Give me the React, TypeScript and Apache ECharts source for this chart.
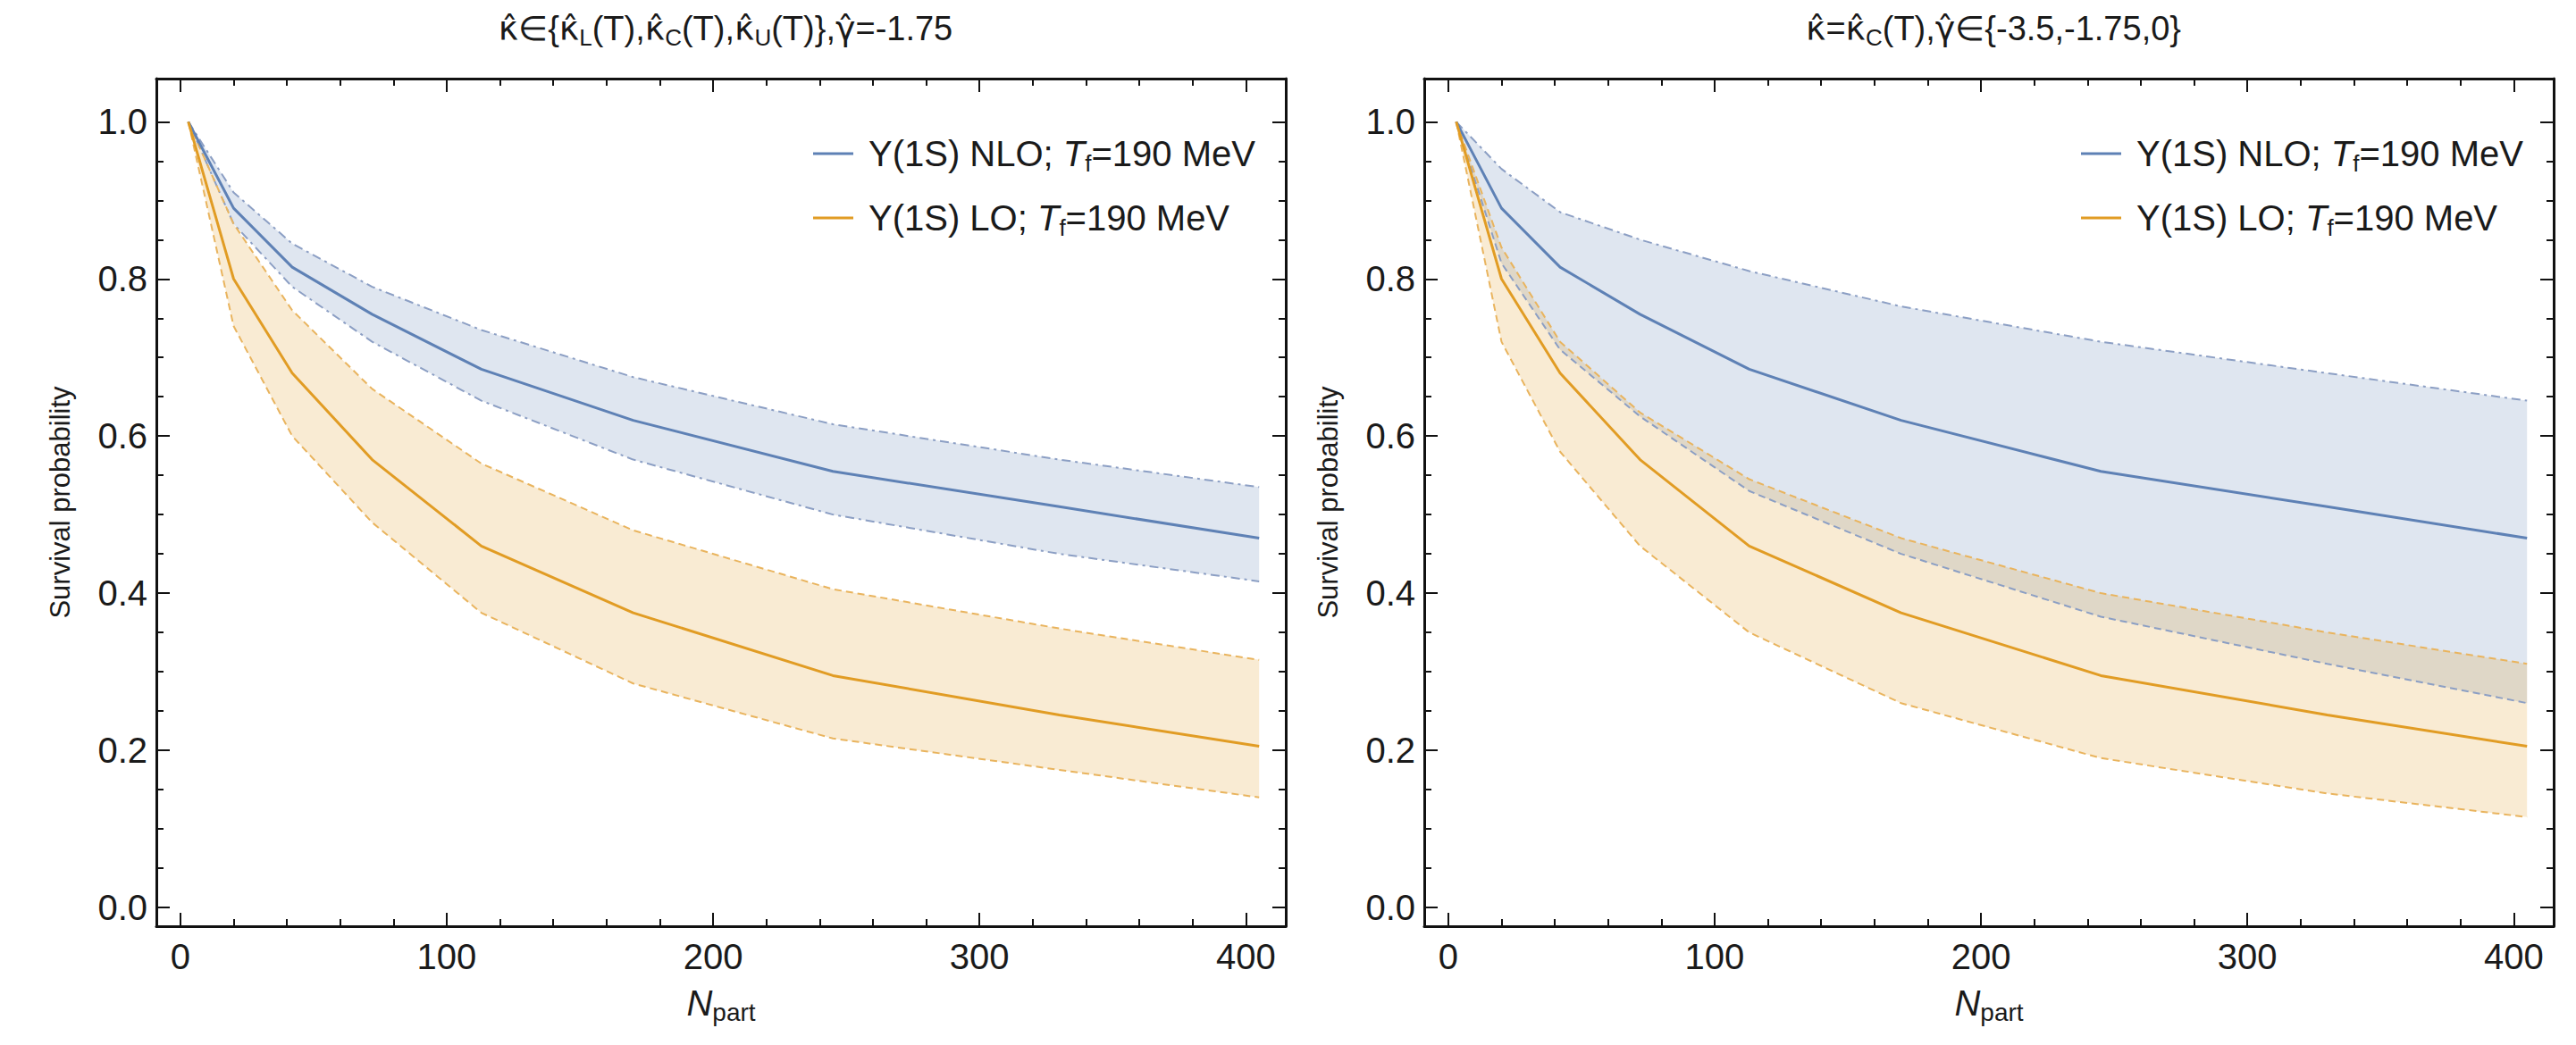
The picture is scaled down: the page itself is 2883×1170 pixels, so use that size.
import React, { useEffect, useRef } from "react";
import * as echarts from "echarts";

// ---------------- data ----------------
const npart = [3, 20, 42, 72, 113, 170, 245, 330, 405];

const nloCentral = [1.0, 0.89, 0.815, 0.755, 0.685, 0.62, 0.555, 0.51, 0.47];
const loCentral = [1.0, 0.8, 0.68, 0.57, 0.46, 0.375, 0.295, 0.245, 0.205];

// left panel: kappa variation
const nloKappaUpper = [1.0, 0.91, 0.845, 0.79, 0.735, 0.675, 0.615, 0.57, 0.535];
const nloKappaLower = [1.0, 0.87, 0.79, 0.72, 0.645, 0.57, 0.5, 0.45, 0.415];
const loKappaUpper = [1.0, 0.87, 0.76, 0.66, 0.565, 0.48, 0.405, 0.355, 0.315];
const loKappaLower = [1.0, 0.74, 0.6, 0.49, 0.375, 0.285, 0.215, 0.175, 0.14];

// right panel: gamma variation
const nloGammaUpper = [1.0, 0.94, 0.885, 0.85, 0.81, 0.765, 0.72, 0.68, 0.645];
const nloGammaLower = [1.0, 0.82, 0.71, 0.625, 0.53, 0.45, 0.37, 0.31, 0.26];
const loGammaUpper = [1.0, 0.84, 0.72, 0.63, 0.545, 0.47, 0.4, 0.35, 0.31];
const loGammaLower = [1.0, 0.72, 0.58, 0.46, 0.35, 0.26, 0.19, 0.145, 0.115];

const xMajorTicks = [0, 100, 200, 300, 400];
const xMinorTicks = [20, 40, 60, 80, 120, 140, 160, 180, 220, 240, 260, 280, 320, 340, 360, 380];
const yMajorTicks = [0, 0.2, 0.4, 0.6, 0.8, 1.0];
const yMinorTicks = [0.05, 0.1, 0.15, 0.25, 0.3, 0.35, 0.45, 0.5, 0.55, 0.65, 0.7, 0.75, 0.85, 0.9, 0.95];

const titles = [
  "{h|κ̂}∈{{h|κ̂}{s|L}(T),{h|κ̂}{s|C}(T),{h|κ̂}{s|U}(T)},{h|γ̂}=-1.75",
  "{h|κ̂}={h|κ̂}{s|C}(T),{h|γ̂}∈{-3.5,-1.75,0}",
];
const legendNames = ["NLO", "LO"];
const legendLabels: Record<string, string> = {
  NLO: "Υ(1S) NLO; {i|T}{s|f}=190 MeV",
  LO: "Υ(1S) LO; {i|T}{s|f}=190 MeV",
};

// ---------------- styles ----------------
const BLUE = "#5E81B5";
const ORANGE = "#E19C24";
const BLUE_FILL = "rgba(94,129,181,0.2)";
const ORANGE_FILL = "rgba(225,156,36,0.2)";
const BLUE_EDGE = "#8C9FC4";
const ORANGE_EDGE = "#E9B45E";
const FONT = "'Liberation Sans', Arial, sans-serif";
const TXT = "#1a1a1a";

const X_MIN = -9;
const X_MAX = 415;
const Y_MIN = -0.024;
const Y_MAX = 1.055;

const grids = [
  { left: 175, width: 1264, top: 88, height: 949 },
  { left: 1594, width: 1264, top: 88, height: 949 },
];

const pairs = (ys: number[]) => ys.map((y, i) => [npart[i], y]);

function App() {
  const ref = useRef<HTMLDivElement>(null);

  useEffect(() => {
    if (!ref.current) return;
    const chart = echarts.init(ref.current, null, { renderer: "svg" });

    const xAxis: any[] = [];
    const yAxis: any[] = [];
    grids.forEach((_, g) => {
      const mk = (pos: string, major: boolean, labels: boolean, isX: boolean) => {
        const ticks = isX ? (major ? xMajorTicks : xMinorTicks) : major ? yMajorTicks : yMinorTicks;
        const ax: any = {
          type: "value",
          gridIndex: g,
          position: pos,
          min: isX ? X_MIN : Y_MIN,
          max: isX ? X_MAX : Y_MAX,
          axisLine: { show: major, onZero: false, lineStyle: { color: "#111", width: 3 } },
          splitLine: { show: false },
          axisTick: {
            show: true,
            inside: true,
            length: major ? 15 : 8,
            customValues: ticks,
            lineStyle: { color: "#111", width: 2 },
          },
          axisLabel: labels
            ? {
                show: true,
                customValues: ticks,
                fontSize: 40,
                fontFamily: FONT,
                color: TXT,
                margin: isX ? 14 : 10,
                formatter: (v: number) => (isX ? String(Math.round(v)) : v.toFixed(1)),
              }
            : { show: false },
        };
        if (labels && isX) {
          ax.name = "{i|N}{s|part}";
          ax.nameLocation = "middle";
          ax.nameGap = 62;
          ax.nameTextStyle = {
            fontFamily: FONT,
            color: TXT,
            rich: {
              i: { fontSize: 40, fontStyle: "italic", fontFamily: FONT, color: TXT, lineHeight: 48 },
              s: { fontSize: 28, fontFamily: FONT, color: TXT, lineHeight: 20, verticalAlign: "bottom" },
            },
          };
        }
        if (labels && !isX) {
          ax.name = "Survival probability";
          ax.nameLocation = "middle";
          ax.nameGap = 92;
          ax.nameTextStyle = { fontSize: 31, fontFamily: FONT, color: TXT };
        }
        return ax;
      };
      xAxis.push(mk("bottom", true, true, true));
      xAxis.push(mk("bottom", false, false, true));
      xAxis.push(mk("top", true, false, true));
      xAxis.push(mk("top", false, false, true));
      yAxis.push(mk("left", true, true, false));
      yAxis.push(mk("left", false, false, false));
      yAxis.push(mk("right", true, false, false));
      yAxis.push(mk("right", false, false, false));
    });

    const series: any[] = [];
    const band = (g: number, lo: number[], hi: number[], fill: string) => {
      series.push({
        type: "custom",
        xAxisIndex: g * 4,
        yAxisIndex: g * 4,
        data: npart.map((x, i) => [x, lo[i], hi[i]]),
        encode: { x: 0, y: [1, 2] },
        silent: true,
        z: 1,
        renderItem: (params: any, api: any) => {
          if (params.dataIndex !== 0) return { type: "group", children: [] };
          const pts: number[][] = [];
          for (let i = 0; i < npart.length; i++) pts.push(api.coord([npart[i], hi[i]]));
          for (let i = npart.length - 1; i >= 0; i--) pts.push(api.coord([npart[i], lo[i]]));
          return { type: "polygon", shape: { points: pts }, style: { fill, stroke: "none" } };
        },
      });
    };
    const line = (g: number, name: string, ys: number[], color: string, width: number, type: any, z: number) => {
      series.push({
        type: "line",
        name,
        xAxisIndex: g * 4,
        yAxisIndex: g * 4,
        data: pairs(ys),
        symbol: "none",
        lineStyle: { color, width, type },
        itemStyle: { color },
        silent: true,
        z,
      });
    };

    const dashDot = [10, 5, 3, 5];
    const dash = [8, 5];

    // left panel
    band(0, nloKappaLower, nloKappaUpper, BLUE_FILL);
    band(0, loKappaLower, loKappaUpper, ORANGE_FILL);
    line(0, "nloKU", nloKappaUpper, BLUE_EDGE, 2, dashDot, 3);
    line(0, "nloKL", nloKappaLower, BLUE_EDGE, 2, dashDot, 3);
    line(0, "loKU", loKappaUpper, ORANGE_EDGE, 2, dash, 3);
    line(0, "loKL", loKappaLower, ORANGE_EDGE, 2, dash, 3);
    line(0, "NLO", nloCentral, BLUE, 3, "solid", 4);
    line(0, "LO", loCentral, ORANGE, 3, "solid", 4);

    // right panel
    band(1, nloGammaLower, nloGammaUpper, BLUE_FILL);
    band(1, loGammaLower, loGammaUpper, ORANGE_FILL);
    line(1, "nloGU", nloGammaUpper, BLUE_EDGE, 2, dashDot, 3);
    line(1, "nloGL", nloGammaLower, BLUE_EDGE, 2, dash, 3);
    line(1, "loGU", loGammaUpper, ORANGE_EDGE, 2, dash, 3);
    line(1, "loGL", loGammaLower, ORANGE_EDGE, 2, dash, 3);
    line(1, "NLO", nloCentral, BLUE, 3, "solid", 4);
    line(1, "LO", loCentral, ORANGE, 3, "solid", 4);

    const legendRich = {
      i: { fontSize: 40, fontStyle: "italic", fontFamily: FONT, color: TXT, lineHeight: 48 },
      s: { fontSize: 26, fontFamily: FONT, color: TXT, lineHeight: 18, verticalAlign: "bottom" },
    };
    const legends = grids.map((gr) => ({
      data: legendNames,
      orient: "vertical",
      left: gr.left + gr.width - 534,
      top: 143,
      itemWidth: 45,
      itemHeight: 3,
      itemGap: 24,
      selectedMode: false,
      icon: "rect",
      formatter: (n: string) => legendLabels[n],
      textStyle: { fontSize: 40, fontFamily: FONT, color: TXT, lineHeight: 48, padding: [0, 0, 0, 12], rich: legendRich },
    }));

    const titleRich = {
      h: { fontSize: 38, fontFamily: "'DejaVu Sans', sans-serif", color: TXT },
      s: { fontSize: 26, fontFamily: FONT, color: TXT, lineHeight: 18, verticalAlign: "bottom" },
    };
    const title = grids.map((gr, i) => ({
      text: titles[i],
      left: gr.left + gr.width / 2,
      textAlign: "center",
      top: 4,
      textStyle: { fontSize: 38, fontWeight: "normal", fontFamily: FONT, color: TXT, lineHeight: 46, rich: titleRich },
    }));

    chart.setOption({
      animation: false,
      backgroundColor: "#ffffff",
      title,
      legend: legends,
      grid: grids.map((g) => ({ ...g, containLabel: false })),
      xAxis,
      yAxis,
      series,
    });

    return () => chart.dispose();
  }, []);

  return (
    <div
      ref={ref}
      style={{ position: "fixed", left: 0, top: 0, width: 2883, height: 1170, background: "#fff" }}
    />
  );
}

export default App;
